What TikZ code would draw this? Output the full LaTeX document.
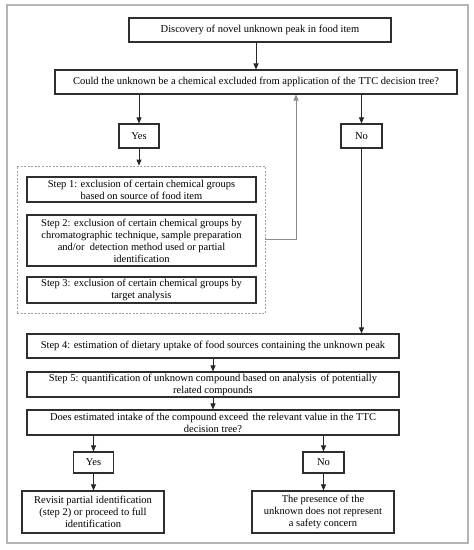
\documentclass[tikz,border=0pt]{standalone}
\usepackage{fontspec}
\setmainfont{Liberation Serif}
\usetikzlibrary{arrows.meta,calc}
\definecolor{boxc}{HTML}{2E2E2E}
\definecolor{arrc}{HTML}{262626}
\definecolor{framec}{HTML}{B4B4B4}
\definecolor{dashc}{HTML}{A0A0A0}
\definecolor{linkc}{HTML}{8C8C8C}
\newcommand{\fs}{\fontsize{10.5}{12}\selectfont}
\begin{document}
\begin{tikzpicture}[x=1pt,y=-1pt,
  box/.style={draw=boxc,line width=1.1pt,fill=white,inner sep=0pt,align=center,font=\fs},
  arr/.style={draw=arrc,line width=0.9pt,-{Triangle[width=5pt,length=6pt]}},
  link/.style={draw=linkc,line width=0.9pt,-{Triangle[width=5pt,length=6pt]}},
  grpbox/.style={draw=dashc,line width=0.8pt,dash pattern=on 2pt off 1.5pt},
]
\useasboundingbox (0,0) rectangle (474,550);
\draw[framec,line width=1.2pt,fill=white] (7,5) rectangle (468,543);

\node[box,minimum width=262pt,minimum height=24pt] (top) at (260,30) {Discovery of novel unknown peak in food item};
\node[box,minimum width=402pt,minimum height=24pt] (q1) at (256,82) {Could the unknown be a chemical excluded from application of the TTC decision tree?};
\node[box,minimum width=40pt,minimum height=24pt] (yes1) at (139,136) {Yes};
\node[box,minimum width=41pt,minimum height=24pt] (no1) at (361.5,136) {No};

\node[grpbox,minimum width=248pt,minimum height=147pt] (grp) at (141,239.5) {};
\node[box,minimum width=229pt,minimum height=25pt] (s1) at (141.5,189.5) {Step 1: exclusion of certain chemical groups\\based on source of food item};
\node[box,minimum width=229pt,minimum height=51pt] (s2) at (141.5,240.5) {Step 2: exclusion of certain chemical groups by\\chromatographic technique, sample preparation\\and/or\ \ detection method used or partial\\identification};
\node[box,minimum width=229pt,minimum height=26pt] (s3) at (141.5,290) {Step 3: exclusion of certain chemical groups by\\target analysis};

\node[box,minimum width=372pt,minimum height=24pt] (s4) at (213,346) {Step 4: estimation of dietary uptake of food sources containing the unknown peak};
\node[box,minimum width=372pt,minimum height=25pt] (s5) at (213,384.5) {Step 5: quantification of unknown compound based on analysis\ \,of potentially\\related compounds};
\node[box,minimum width=372pt,minimum height=25pt] (q2) at (213,422.5) {Does estimated intake of the compound exceed\ \,the relevant value in the TTC\\decision tree?};

\node[box,minimum width=40pt,minimum height=21pt] (yes2) at (93.5,462.5) {Yes};
\node[box,minimum width=41pt,minimum height=21pt] (no2) at (323.5,462.5) {No};
\node[box,minimum width=142pt,minimum height=42pt] (r1) at (93,512) {Revisit partial identification\\(step 2) or proceed to full\\identification};
\node[box,minimum width=142pt,minimum height=42pt] (r2) at (323,512) {The presence of the\\unknown does not represent\\a safety concern};

\draw[arr] (q1.north |- top.south) -- (q1.north);
\draw[arr] (yes1.north |- q1.south) -- (yes1.north);
\draw[arr] (no1.north |- q1.south) -- (no1.north);
\draw[arr] (yes1.south) -- (yes1.south |- grp.north);
\draw[link] (grp.east) -| ([xshift=40pt]q1.south);
\draw[arr] (no1.south) -- (no1.south |- s4.north);
\draw[arr] (s4.south) -- (s5.north);
\draw[arr] (s5.south) -- (q2.north);
\draw[arr] (yes2.north |- q2.south) -- (yes2.north);
\draw[arr] (no2.north |- q2.south) -- (no2.north);
\draw[arr] (yes2.south) -- (yes2.south |- r1.north);
\draw[arr] (no2.south) -- (no2.south |- r2.north);
\end{tikzpicture}
\end{document}
